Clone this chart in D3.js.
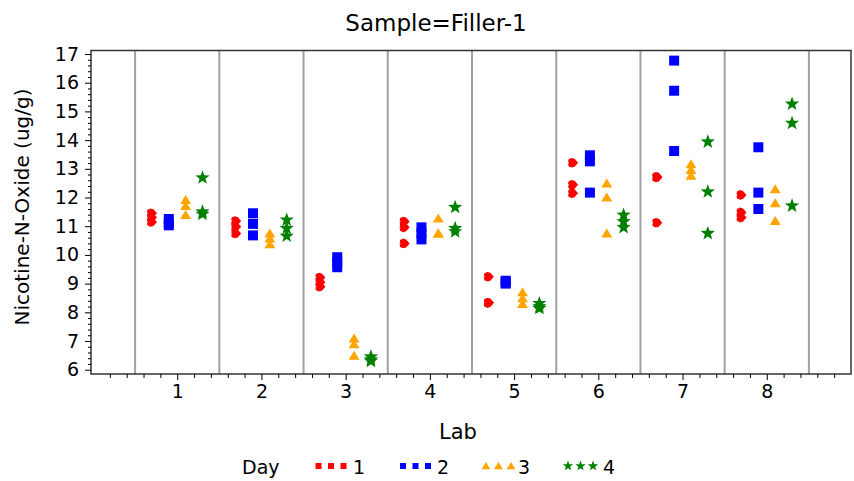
<!DOCTYPE html>
<html>
<head>
<meta charset="utf-8">
<script src="https://cdn.jsdelivr.net/npm/d3@7"></script>
<style>
  body { margin: 0; background: #fff; }
  svg { font-family: "DejaVu Sans", Arial, sans-serif; }
</style>
</head>
<body>
<div id="chart"></div>
<script>
// data: 3 replicates per lab for each day
const labs = [1, 2, 3, 4, 5, 6, 7, 8];
const days = ["1", "2", "3", "4"];
const day1 = [[11.45, 11.3, 11.15], [11.18, 10.98, 10.75], [9.21, 9.05, 8.89], [11.16, 10.96, 10.4],
  [9.24, 8.33, 8.33], [13.21, 12.44, 12.15], [12.72, 12.7, 11.12], [12.09, 11.48, 11.3]];
const day2 = [[11.25, 11.1, 11.03], [11.45, 11.08, 10.68], [9.92, 9.75, 9.57], [10.96, 10.75, 10.54],
  [9.1, 9.05, 9.0], [13.47, 13.26, 12.17], [16.77, 15.72, 13.62], [13.75, 12.17, 11.6]];
const day3 = [[11.91, 11.7, 11.39], [10.75, 10.57, 10.37], [7.09, 6.89, 6.49], [11.27, 10.75, 10.75],
  [8.7, 8.49, 8.29], [12.49, 12.0, 10.75], [13.16, 12.96, 12.76], [12.29, 11.8, 11.18]];
const day4 = [[12.69, 11.5, 11.42], [11.22, 10.93, 10.66], [6.45, 6.35, 6.3], [11.66, 10.93, 10.81],
  [8.31, 8.2, 8.14], [11.39, 11.16, 10.96], [13.94, 12.2, 10.75], [15.26, 14.59, 11.71]];
const yTicks = [6, 7, 8, 9, 10, 11, 12, 13, 14, 15, 16, 17];

const series = [day1, day2, day3, day4];
const colors = ["#ff0000", "#0000ff", "#ffa500", "#008000"];
const dayOffset = [-0.3, -0.1, 0.1, 0.3];

const W = 854, H = 481;
const frame = { left: 91, right: 851, top: 50.5, bottom: 374 };

const svg = d3.select("#chart").append("svg")
  .attr("width", W).attr("height", H);

const x = d3.scaleLinear().domain([0, 9]).range([93, 851]);
const y = d3.scaleLinear().domain([6, 17]).range([369.7, 54]);

// marker shapes
const heart = "M5,0 L1.5,-4 L-1.5,-4.8 L-4.5,-3.5 L-5,-1 L-4,0 L-5,1 L-4.5,3.5 L-1.5,4.8 L1.5,4 Z";
function starPath(R, r) {
  const pts = [];
  for (let i = 0; i < 10; i++) {
    const a = -Math.PI / 2 + i * Math.PI / 5;
    const rad = i % 2 === 0 ? R : r;
    pts.push([rad * Math.cos(a), rad * Math.sin(a)]);
  }
  return "M" + pts.map(p => p.join(",")).join("L") + "Z";
}
const shapes = [
  k => heart.replace(/-?\d+(\.\d+)?/g, v => (+v * k).toFixed(2)),
  k => `M${-5 * k},${-5 * k}h${10 * k}v${10 * k}h${-10 * k}Z`,
  k => `M0,${-5 * k}L${5.5 * k},${4 * k}L${-5.5 * k},${4 * k}Z`,
  k => starPath(7.5 * k, 3.1 * k)
];

// title
svg.append("text")
  .attr("x", 436).attr("y", 31)
  .attr("text-anchor", "middle")
  .attr("font-size", 23)
  .text("Sample=Filler-1");

// reference lines between labs
svg.append("g").selectAll("line")
  .data(d3.range(0.5, 9, 1))
  .enter().append("line")
  .attr("x1", d => x(d)).attr("x2", d => x(d))
  .attr("y1", frame.top).attr("y2", frame.bottom)
  .attr("stroke", "#a0a0a0").attr("stroke-width", 2);

// frame
svg.append("rect")
  .attr("x", frame.left).attr("y", frame.top)
  .attr("width", frame.right - frame.left)
  .attr("height", frame.bottom - frame.top)
  .attr("fill", "none").attr("stroke", "#333").attr("stroke-width", 1.5);

// x axis
const xMinor = d3.range(0, 45).map(i => i / 5).filter(v => v % 1 !== 0);
svg.append("g")
  .attr("transform", `translate(0,${frame.bottom})`)
  .call(d3.axisBottom(x).tickValues(xMinor).tickSize(4).tickFormat(""))
  .call(a => a.select(".domain").remove());
svg.append("g")
  .attr("transform", `translate(0,${frame.bottom})`)
  .call(d3.axisBottom(x).tickValues(labs).tickSize(6).tickPadding(5))
  .call(a => a.select(".domain").remove())
  .call(a => a.selectAll("text").attr("font-size", 19).attr("fill", "#000")
    .attr("font-family", "DejaVu Sans, Arial, sans-serif"));

// y axis
const yMinor = d3.range(30, 86).map(i => i / 5).filter(v => v % 1 !== 0);
svg.append("g")
  .attr("transform", `translate(${frame.left},0)`)
  .call(d3.axisLeft(y).tickValues(yMinor).tickSize(3).tickFormat(""))
  .call(a => a.select(".domain").remove());
svg.append("g")
  .attr("transform", `translate(${frame.left},0)`)
  .call(d3.axisLeft(y).tickValues(yTicks).tickSize(6).tickPadding(6))
  .call(a => a.select(".domain").remove())
  .call(a => a.selectAll("text").attr("font-size", 19).attr("fill", "#000")
    .attr("font-family", "DejaVu Sans, Arial, sans-serif"));

// axis labels
svg.append("text")
  .attr("x", 458).attr("y", 439)
  .attr("text-anchor", "middle")
  .attr("font-size", 21)
  .text("Lab");
svg.append("text")
  .attr("transform", "rotate(-90)")
  .attr("x", -207).attr("y", 29)
  .attr("text-anchor", "middle")
  .attr("font-size", 20)
  .text("Nicotine-N-Oxide (ug/g)");

// points
series.forEach((vals, di) => {
  const pts = [];
  vals.forEach((reps, li) => reps.forEach(v => pts.push({ lab: labs[li], v })));
  svg.append("g").selectAll("path")
    .data(pts)
    .enter().append("path")
    .attr("d", shapes[di](1))
    .attr("transform", d => `translate(${x(d.lab + dayOffset[di])},${y(d.v)})`)
    .attr("fill", colors[di]);
});

// legend
const legend = svg.append("g");
legend.append("text")
  .attr("x", 242).attr("y", 474)
  .attr("font-size", 19)
  .text("Day");
const legX = [318.5, 403, 486, 568];
const legLabelX = [353, 437, 518, 603];
days.forEach((d, i) => {
  const k = i === 3 ? 0.72 : (i === 2 ? 0.8 : 0.6);
  [0, 1, 2].forEach(j => {
    legend.append("path")
      .attr("d", shapes[i === 0 ? 1 : i](k))
      .attr("transform", `translate(${legX[i] + j * 12.5},${466})`)
      .attr("fill", colors[i]);
  });
  legend.append("text")
    .attr("x", legLabelX[i]).attr("y", 474)
    .attr("font-size", 19)
    .text(d);
});
</script>
</body>
</html>
